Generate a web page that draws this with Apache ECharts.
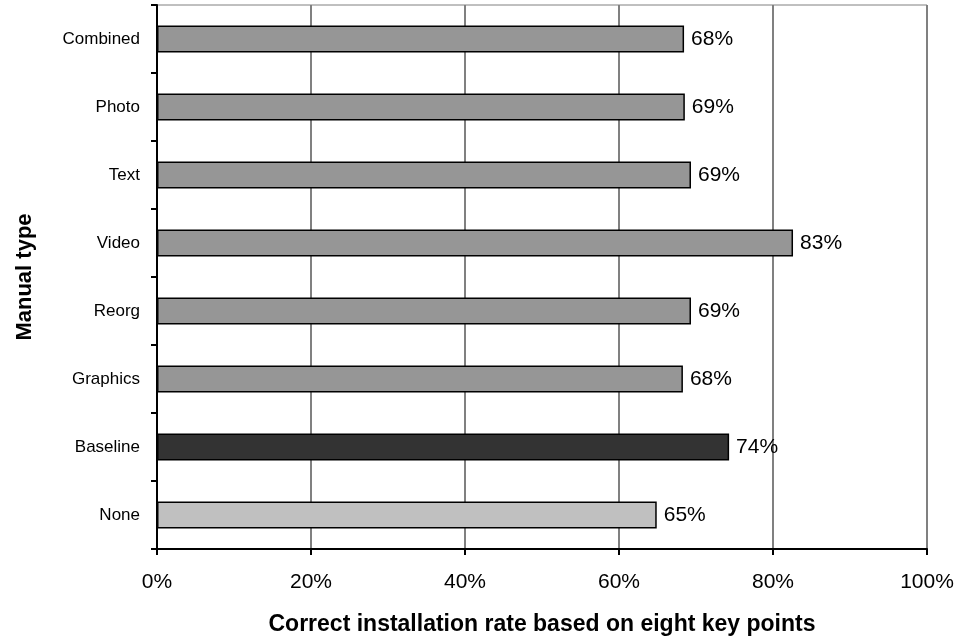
<!DOCTYPE html>
<html>
<head>
<meta charset="utf-8">
<script src="https://cdn.jsdelivr.net/npm/echarts@6/dist/echarts.min.js"></script>
<style>
    html, body { margin: 0; padding: 0; background: #fff; }
    #chart { width: 956px; height: 638px; }
</style>
</head>
<body>
<div id="chart"></div>
<script>
// categories listed top to bottom
var categories = ['Combined', 'Photo', 'Text', 'Video', 'Reorg', 'Graphics', 'Baseline', 'None']
var rates = [68.45, 68.55, 69.35, 82.6, 69.35, 68.3, 74.3, 64.9]
var barColors = ['#969696', '#969696', '#969696', '#969696', '#969696', '#969696', '#333333', '#c0c0c0']
var xTicks = [0, 20, 40, 60, 80, 100]

var font = 'Liberation Sans, Arial, sans-serif'

var chart = echarts.init(document.getElementById('chart'))
chart.setOption({
    animation: false,
    grid: {
        left: 157,
        right: 29,
        top: 5,
        bottom: 89,
        outerBoundsMode: 'none',
        containLabel: false,
        show: true,
        borderColor: '#808080',
        borderWidth: 1
    },
    xAxis: {
        type: 'value',
        min: xTicks[0],
        max: xTicks[xTicks.length - 1],
        interval: 20,
        name: 'Correct installation rate based on eight key points',
        nameLocation: 'middle',
        nameGap: 64,
        nameTextStyle: { fontFamily: font, fontSize: 23, fontWeight: 'bold', color: '#000' },
        axisLine: { show: true, lineStyle: { color: '#000', width: 2 } },
        axisTick: { show: true, length: 6, lineStyle: { color: '#000', width: 2 } },
        axisLabel: {
            margin: 23,
            fontFamily: font,
            fontSize: 21,
            color: '#000',
            formatter: function (v) { return v + '%' }
        },
        splitLine: { show: true, lineStyle: { color: '#808080', width: 2 } }
    },
    yAxis: {
        type: 'category',
        inverse: true,
        data: categories,
        name: 'Manual type',
        nameLocation: 'middle',
        nameGap: 121,
        nameTextStyle: { fontFamily: font, fontSize: 22, fontWeight: 'bold', color: '#000' },
        axisLine: { show: true, lineStyle: { color: '#000', width: 2 } },
        axisTick: { show: true, length: 6, lineStyle: { color: '#000', width: 2 } },
        axisLabel: { margin: 17, fontFamily: font, fontSize: 17, color: '#000' },
        splitLine: { show: false }
    },
    series: [{
        type: 'bar',
        barWidth: 27,
        data: rates.map(function (v, i) {
            return { value: v, itemStyle: { color: barColors[i] } }
        }),
        itemStyle: { borderColor: '#000', borderWidth: 1.5 },
        label: {
            show: true,
            position: 'right',
            distance: 7,
            fontFamily: font,
            fontSize: 21,
            color: '#000',
            formatter: function (p) { return Math.round(p.value) + '%' }
        }
    }]
})
</script>
</body>
</html>
